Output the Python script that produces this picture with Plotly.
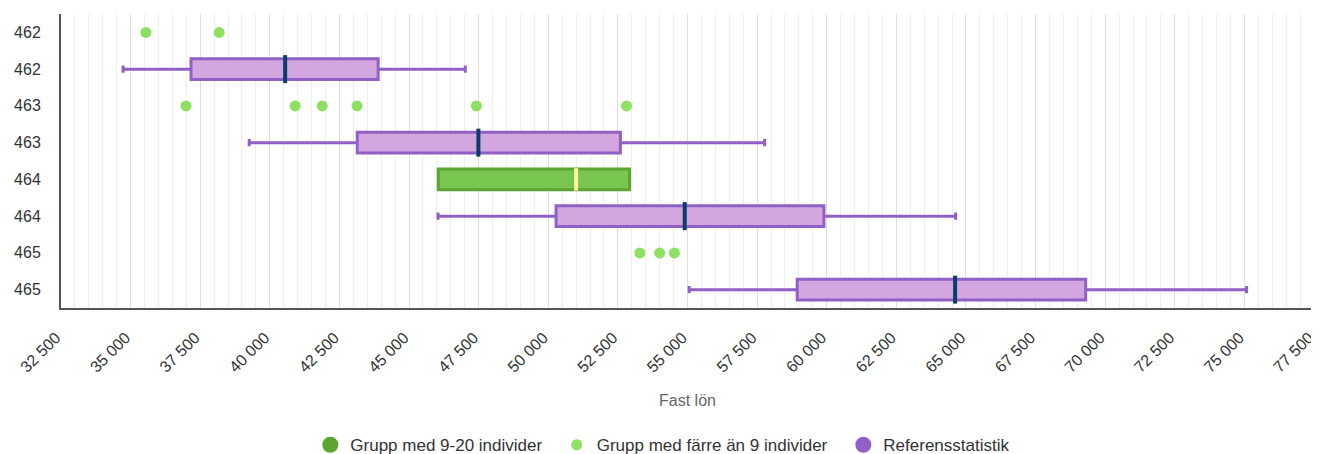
import plotly.graph_objects as go

# ---- data ----
categories = ["462", "462", "463", "463", "464", "464", "465", "465"]

# Referensstatistik boxes (rows 1, 3, 5, 7 counted from top)
ref_rows = [1, 3, 5, 7]
ref_low = [34730, 39260, 46040, 55060]
ref_q1 = [37170, 43140, 50280, 58940]
ref_med = [40550, 47490, 54900, 64610]
ref_q3 = [43890, 52590, 59900, 69300]
ref_high = [47020, 57770, 64630, 75080]

# Grupp med 9-20 individer
grp_rows = [4]
grp_q1 = [46050]
grp_med = [51000]
grp_q3 = [52920]

# Grupp med färre än 9 individer (individual points)
small_rows = [0, 0, 2, 2, 2, 2, 2, 2, 6, 6, 6]
small_vals = [35550, 38180, 36990, 40910, 41880, 43130, 47420, 52810, 53290, 54000, 54530]

x_min, x_max, x_step = 32500, 77500, 2500

PURPLE = "#9160c6"
PURPLE_FILL = "#d3a6e0"
GREEN_DARK = "#5ca532"
GREEN_FILL = "#78c64f"
GREEN_LIGHT = "#8ee062"
NAVY = "#0b3d6b"
YELLOW = "#fff3a3"
FONT = "Liberation Sans, Arial, sans-serif"

fig = go.Figure()

fig.add_trace(go.Box(
    orientation="h", y=ref_rows, q1=ref_q1, median=ref_med, q3=ref_q3,
    lowerfence=ref_low, upperfence=ref_high,
    fillcolor=PURPLE_FILL, line=dict(color=PURPLE, width=3),
    width=0.56, whiskerwidth=0.35, boxpoints=False, showlegend=False,
    hoverinfo="x"))

fig.add_trace(go.Box(
    orientation="h", y=grp_rows, q1=grp_q1, median=grp_med, q3=grp_q3,
    lowerfence=grp_q1, upperfence=grp_q3,
    fillcolor=GREEN_FILL, line=dict(color=GREEN_DARK, width=3),
    width=0.56, whiskerwidth=0, boxpoints=False, showlegend=False,
    hoverinfo="x"))

# median markers
fig.add_trace(go.Scatter(
    x=ref_med, y=ref_rows, mode="markers", showlegend=False, hoverinfo="x",
    marker=dict(symbol="line-ns", size=20, line=dict(color=NAVY, width=4))))
fig.add_trace(go.Scatter(
    x=grp_med, y=grp_rows, mode="markers", showlegend=False, hoverinfo="x",
    marker=dict(symbol="line-ns", size=16, line=dict(color=YELLOW, width=4))))

# legend entries (one legend each so their positions can follow the reference)
fig.add_trace(go.Scatter(
    x=[None], y=[None], mode="markers", name="Grupp med 9-20 individer",
    legend="legend", marker=dict(color=GREEN_DARK, size=16)))
fig.add_trace(go.Scatter(
    x=small_vals, y=small_rows, mode="markers", name="Grupp med färre än 9 individer",
    legend="legend2", marker=dict(color=GREEN_LIGHT, size=11)))
fig.add_trace(go.Scatter(
    x=[None], y=[None], mode="markers", name="Referensstatistik",
    legend="legend3", marker=dict(color=PURPLE, size=16)))

leg_common = dict(orientation="h", xref="container", xanchor="left",
                  yref="container", y=0.037, yanchor="middle",
                  font=dict(size=17, color="#333333"), itemsizing="trace",
                  bgcolor="rgba(0,0,0,0)")

fig.update_layout(
    width=1319, height=454,
    margin=dict(l=53, r=13, t=6, b=154, autoexpand=False),
    paper_bgcolor="white", plot_bgcolor="white",
    font=dict(family=FONT, size=16, color="#333333"),
    separators=", ",
    showlegend=True,
    legend=dict(x=0.2292, **leg_common),
    legend2=dict(x=0.4160, **leg_common),
    legend3=dict(x=0.6333, **leg_common),
    xaxis=dict(
        range=[x_min, x_max], tick0=x_min, dtick=x_step, tickformat=",d",
        tickangle=-45, showgrid=True, gridcolor="#dedede", gridwidth=1,
        minor=dict(dtick=500, showgrid=True, gridcolor="#eeeeee", gridwidth=1),
        showline=True, linecolor="#555555", linewidth=2, zeroline=False,
        ticks="", ticklabelstandoff=12, ticklabelshift=-5, automargin=False,
        tickfont=dict(size=16, color="#333333"),
        title=dict(text="Fast lön", font=dict(size=16, color="#666666"), standoff=20),
    ),
    yaxis=dict(
        range=[7.5, -0.5], tickmode="array",
        tickvals=list(range(len(categories))), ticktext=categories,
        showgrid=False, zeroline=False, showline=True, linecolor="#555555", linewidth=2,
        ticks="", ticklabelstandoff=15, automargin=False,
        tickfont=dict(size=16, color="#333333"),
    ),
)

fig.write_html("out.html")
